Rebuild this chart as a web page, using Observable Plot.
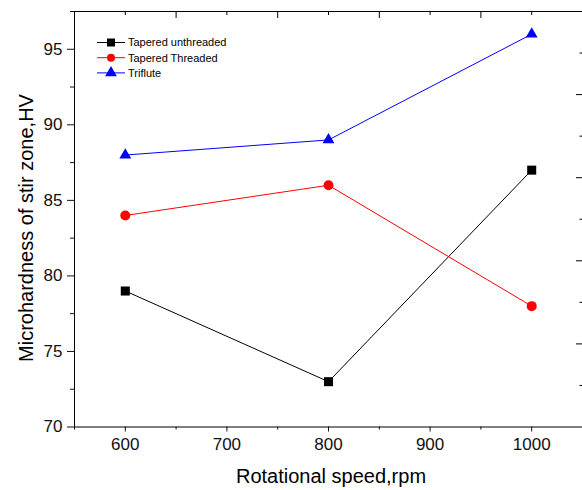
<!DOCTYPE html>
<html>
<head>
<meta charset="utf-8">
<script src="https://cdn.jsdelivr.net/npm/d3@7"></script>
<script src="https://cdn.jsdelivr.net/npm/@observablehq/plot@0.6"></script>
<style>
  html, body { margin: 0; padding: 0; background: #fff; overflow: hidden; }
  #chart { position: relative; width: 582px; height: 490px; }
</style>
</head>
<body>
<div id="chart"></div>
<script>
// ---- data ----
const speeds = [600, 800, 1000];
const unthreaded = [79, 73, 87];
const threaded = [84, 86, 78];
const triflute = [88, 89, 96];
const seriesNames = ["Tapered unthreaded", "Tapered Threaded", "Triflute"];
const seriesColors = ["#000000", "#ff0000", "#0000ff"];
const seriesSymbols = ["square", "circle", "triangle"];
const xTicks = [600, 700, 800, 900, 1000];
const xMinorTicks = [550, 650, 750, 850, 950, 1050];
const yTicks = [70, 75, 80, 85, 90, 95];
const yMinorTicks = [72.5, 77.5, 82.5, 87.5, 92.5, 97.5];
const xDomain = [550, 1050];
const yDomain = [70, 97.5];
// right (unlabelled) axis: 0..10
const rightDomain = [0, 10];
const rightMajor = [2, 4, 6, 8];
const rightMinor = [1, 3, 5, 7, 9];
const xTitle = "Rotational speed,rpm";
const yTitle = "Microhardness of stir zone,HV";

// ---- layout ----
const W = 582, H = 490;
const mL = 74, mR = 0, mT = 11, mB = 63.5;
const plotW = W - mL - mR, plotH = H - mT - mB;

const allValues = [unthreaded, threaded, triflute];
const rows = [];
allValues.forEach((vals, s) => vals.forEach((v, i) => rows.push({series: seriesNames[s], x: speeds[i], y: v})));

const toLeft = d3.scaleLinear().domain(rightDomain).range(yDomain);

const font = "'Liberation Sans', Arial, Helvetica, sans-serif";

const svg = Plot.plot({
  width: W, height: H,
  marginLeft: mL, marginRight: mR, marginTop: mT, marginBottom: mB,
  style: {fontFamily: font, fontSize: "17px", color: "#111", background: "#fff", overflow: "visible"},
  x: {domain: xDomain, axis: null},
  y: {domain: yDomain, axis: null},
  color: {domain: seriesNames, range: seriesColors},
  symbol: {domain: seriesNames, range: seriesSymbols},
  marks: [
    // bottom axis
    Plot.axisX(xTicks, {anchor: "bottom", tickSize: 5, tickPadding: 6, label: null, fontSize: 17, tickFormat: d3.format("d")}),
    Plot.axisX(xMinorTicks, {anchor: "bottom", tickSize: 3, tickFormat: () => "", label: null}),
    // left axis
    Plot.axisY(yTicks, {anchor: "left", tickSize: 7, tickPadding: 5, label: null, fontSize: 17, tickFormat: d3.format("d")}),
    Plot.axisY(yMinorTicks, {anchor: "left", tickSize: 4, tickFormat: () => "", label: null}),
    // top inward ticks
    Plot.ruleX(xTicks, {insetBottom: plotH - 4, stroke: "#000"}),
    Plot.ruleX(xMinorTicks, {insetBottom: plotH - 7, stroke: "#000"}),
    // right inward ticks
    Plot.ruleY(rightMajor.map(d => toLeft(d)), {insetLeft: plotW - 6, stroke: "#000"}),
    Plot.ruleY(rightMinor.map(d => toLeft(d)), {insetLeft: plotW - 2.5, stroke: "#000"}),
    // frame lines
    Plot.ruleX([xDomain[0]], {stroke: "#000"}),
    Plot.ruleY([yDomain[0]], {stroke: "#000"}),
    Plot.ruleY([yDomain[1]], {stroke: "#000"}),
    // data
    Plot.line(rows, {x: "x", y: "y", z: "series", stroke: "series", strokeWidth: 1}),
    Plot.dot(rows.filter(d => d.series === seriesNames[0]), {x: "x", y: "y", symbol: "series", fill: "series", stroke: "none", r: 5.1}),
    Plot.dot(rows.filter(d => d.series === seriesNames[1]), {x: "x", y: "y", symbol: "series", fill: "series", stroke: "none", r: 5}),
    Plot.dot(rows.filter(d => d.series === seriesNames[2]), {x: "x", y: "y", symbol: "series", fill: "series", stroke: "none", r: 4.4})
  ]
});

const root = d3.select(svg);

// axis titles
root.append("text")
  .attr("x", 331).attr("y", 483)
  .attr("text-anchor", "middle")
  .attr("font-family", font).attr("font-size", 20).attr("fill", "#000")
  .text(xTitle);
root.append("text")
  .attr("transform", "translate(33,228) rotate(-90)")
  .attr("text-anchor", "middle")
  .attr("font-family", font).attr("font-size", 20).attr("fill", "#000")
  .text(yTitle);

// legend
const legSizes = [64, 50, 60];
const lg = root.append("g").attr("text-anchor", "start");
seriesNames.forEach((name, i) => {
  const yy = 42.5 + i * 15.2;
  lg.append("line").attr("x1", 97).attr("x2", 125).attr("y1", yy).attr("y2", yy)
    .attr("stroke", seriesColors[i]).attr("stroke-width", 1);
  const sym = {square: d3.symbolSquare, circle: d3.symbolCircle, triangle: d3.symbolTriangle}[seriesSymbols[i]];
  lg.append("path").attr("d", d3.symbol(sym, legSizes[i])())
    .attr("transform", `translate(111,${yy})`).attr("fill", seriesColors[i]);
  lg.append("text").attr("x", 128).attr("y", yy).attr("dy", "0.35em")
    .attr("text-anchor", "start")
    .attr("font-family", font).attr("font-size", 11).attr("fill", "#000")
    .text(name);
});

document.getElementById("chart").appendChild(svg);
</script>
</body>
</html>
